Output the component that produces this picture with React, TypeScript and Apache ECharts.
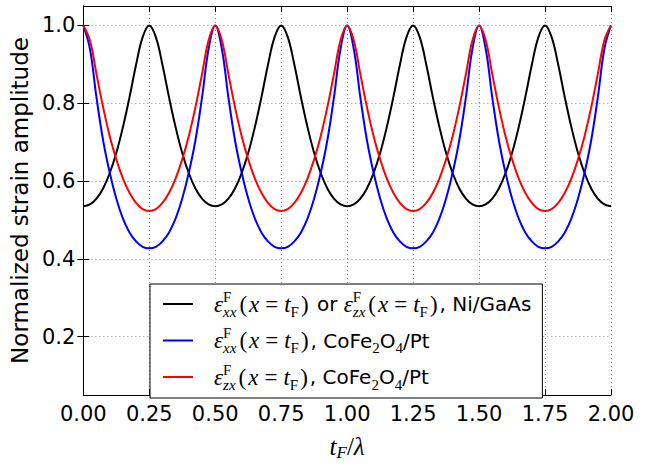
import React, { useEffect, useRef } from "react";
import * as echarts from "echarts";

// sampling positions t_F / lambda
const tValues = [
  0.000, 0.025, 0.050, 0.075, 0.100, 0.125, 0.150, 0.175, 0.200, 0.225,
  0.250, 0.275, 0.300, 0.325, 0.350, 0.375, 0.400, 0.425, 0.450, 0.475,
  0.500, 0.525, 0.550, 0.575, 0.600, 0.625, 0.650, 0.675, 0.700, 0.725,
  0.750, 0.775, 0.800, 0.825, 0.850, 0.875, 0.900, 0.925, 0.950, 0.975,
  1.000, 1.025, 1.050, 1.075, 1.100, 1.125, 1.150, 1.175, 1.200, 1.225,
  1.250, 1.275, 1.300, 1.325, 1.350, 1.375, 1.400, 1.425, 1.450, 1.475,
  1.500, 1.525, 1.550, 1.575, 1.600, 1.625, 1.650, 1.675, 1.700, 1.725,
  1.750, 1.775, 1.800, 1.825, 1.850, 1.875, 1.900, 1.925, 1.950, 1.975,
  2.000,
];

// Ni/GaAs (black)
const niGaAsValues = [
  0.535, 0.540, 0.555, 0.581, 0.620, 0.672, 0.738, 0.815, 0.899, 0.970,
  1.000, 0.970, 0.899, 0.815, 0.738, 0.672, 0.620, 0.581, 0.555, 0.540,
  0.535, 0.540, 0.555, 0.581, 0.620, 0.672, 0.738, 0.815, 0.899, 0.970,
  1.000, 0.970, 0.899, 0.815, 0.738, 0.672, 0.620, 0.581, 0.555, 0.540,
  0.535, 0.540, 0.555, 0.581, 0.620, 0.672, 0.738, 0.815, 0.899, 0.970,
  1.000, 0.970, 0.899, 0.815, 0.738, 0.672, 0.620, 0.581, 0.555, 0.540,
  0.535, 0.540, 0.555, 0.581, 0.620, 0.672, 0.738, 0.815, 0.899, 0.970,
  1.000, 0.970, 0.899, 0.815, 0.738, 0.672, 0.620, 0.581, 0.555, 0.540,
  0.535,
];

// CoFe2O4/Pt, xx component (blue)
const cfoXxValues = [
  1.000, 0.940, 0.815, 0.705, 0.622, 0.555, 0.504, 0.468, 0.445, 0.431,
  0.427, 0.431, 0.445, 0.468, 0.504, 0.555, 0.622, 0.705, 0.815, 0.940,
  1.000, 0.940, 0.815, 0.705, 0.622, 0.555, 0.504, 0.468, 0.445, 0.431,
  0.427, 0.431, 0.445, 0.468, 0.504, 0.555, 0.622, 0.705, 0.815, 0.940,
  1.000, 0.940, 0.815, 0.705, 0.622, 0.555, 0.504, 0.468, 0.445, 0.431,
  0.427, 0.431, 0.445, 0.468, 0.504, 0.555, 0.622, 0.705, 0.815, 0.940,
  1.000, 0.940, 0.815, 0.705, 0.622, 0.555, 0.504, 0.468, 0.445, 0.431,
  0.427, 0.431, 0.445, 0.468, 0.504, 0.555, 0.622, 0.705, 0.815, 0.940,
  1.000,
];

// CoFe2O4/Pt, zx component (red)
const cfoZxValues = [
  1.000, 0.962, 0.875, 0.790, 0.716, 0.656, 0.607, 0.570, 0.544, 0.528,
  0.523, 0.528, 0.544, 0.570, 0.607, 0.656, 0.716, 0.790, 0.875, 0.962,
  1.000, 0.962, 0.875, 0.790, 0.716, 0.656, 0.607, 0.570, 0.544, 0.528,
  0.523, 0.528, 0.544, 0.570, 0.607, 0.656, 0.716, 0.790, 0.875, 0.962,
  1.000, 0.962, 0.875, 0.790, 0.716, 0.656, 0.607, 0.570, 0.544, 0.528,
  0.523, 0.528, 0.544, 0.570, 0.607, 0.656, 0.716, 0.790, 0.875, 0.962,
  1.000, 0.962, 0.875, 0.790, 0.716, 0.656, 0.607, 0.570, 0.544, 0.528,
  0.523, 0.528, 0.544, 0.570, 0.607, 0.656, 0.716, 0.790, 0.875, 0.962,
  1.000,
];

const yTickValues = [0.2, 0.4, 0.6, 0.8, 1.0];
const seriesNames = [
  "εxxF(x=tF) or εzxF(x=tF), Ni/GaAs",
  "εxxF(x=tF), CoFe2O4/Pt",
  "εzxF(x=tF), CoFe2O4/Pt",
];
const seriesColors = ["#000000", "#0000ff", "#ff0000"];

const eps = (c: string) =>
  `{e|ε}{sup|F}{sub|${c}}{r|(}{e|x}{eq|=}{e|t}{subi|F}{r|)}`;
const legendRich = [
  `{sp| }${eps("xx")}{s| or }${eps("zx")}{s|, Ni/GaAs}`,
  `{sp| }${eps("xx")}{s|, CoFe}{ssub|2}{s|O}{ssub|4}{s|/Pt}`,
  `{sp| }${eps("zx")}{s|, CoFe}{ssub|2}{s|O}{ssub|4}{s|/Pt}`,
];

export default function App() {
  const ref = useRef<HTMLDivElement>(null);
  useEffect(() => {
    const chart = echarts.init(ref.current!, null, { renderer: "svg" });
    const sans = "DejaVu Sans";
    const serif = "Liberation Serif";
    const mk = (vals: number[]) => tValues.map((t, i) => [t, vals[i]]);
    const valuesList = [niGaAsValues, cfoXxValues, cfoZxValues];
    const rich: any = {
      sp: { width: 16, fontSize: 10, lineHeight: 30 },
      e: { fontFamily: serif, fontStyle: "italic", fontSize: 23, color: "#000", lineHeight: 30 },
      r: { fontFamily: serif, fontSize: 23, color: "#000", lineHeight: 30, padding: [0, 2] },
      eq: { fontFamily: serif, fontSize: 23, color: "#000", lineHeight: 30, padding: [0, 6] },
      sup: { fontFamily: serif, fontSize: 15, color: "#000", verticalAlign: "top", lineHeight: 16, width: 0 },
      sub: { fontFamily: serif, fontStyle: "italic", fontSize: 15, color: "#000", verticalAlign: "bottom", lineHeight: 19, padding: [0, 1, 0, 0] },
      subi: { fontFamily: serif, fontSize: 15, color: "#000", verticalAlign: "bottom", lineHeight: 19 },
      s: { fontFamily: sans, fontSize: 20, color: "#000", lineHeight: 30 },
      ssub: { fontFamily: serif, fontSize: 15, color: "#000", verticalAlign: "bottom", lineHeight: 19 },
    };
    const axisLine = { show: true, lineStyle: { color: "#000", width: 1 } };
    const tick = { show: true, inside: true, length: 6, lineStyle: { color: "#000", width: 1 } };
    const split = { show: true, lineStyle: { color: "#8c8c8c", width: 1, type: [1, 3] } };
    chart.setOption({
      animation: false,
      backgroundColor: "#fff",
      grid: { left: 81, right: 36, top: 6, bottom: 57, containLabel: false },
      xAxis: [
        {
          type: "value",
          min: 0,
          max: 2,
          interval: 0.25,
          position: "bottom",
          axisLine,
          axisTick: tick,
          splitLine: split,
          axisLabel: {
            formatter: (v: number) => v.toFixed(2),
            fontFamily: sans,
            fontSize: 21,
            color: "#000",
            margin: 8,
          },
          name: "{i|t}{f|F}{r|/}{i|λ}",
          nameLocation: "middle",
          nameGap: 36,
          nameTextStyle: {
            rich: {
              i: { fontFamily: serif, fontStyle: "italic", fontSize: 25, color: "#000", lineHeight: 30 },
              r: { fontFamily: serif, fontSize: 25, color: "#000", lineHeight: 30 },
              f: { fontFamily: serif, fontStyle: "italic", fontSize: 17, color: "#000", verticalAlign: "bottom", lineHeight: 20 },
            },
          },
        },
        {
          type: "value",
          min: 0,
          max: 2,
          interval: 0.25,
          position: "top",
          axisLine,
          axisTick: tick,
          axisLabel: { show: false },
          splitLine: { show: false },
        },
      ],
      yAxis: [
        {
          type: "value",
          min: 0.05,
          max: 1.05,
          position: "left",
          axisLine,
          axisTick: { ...tick, customValues: yTickValues },
          splitLine: split,
          axisLabel: {
            customValues: yTickValues,
            formatter: (v: number) => v.toFixed(1),
            fontFamily: sans,
            fontSize: 21,
            color: "#000",
            margin: 8,
          },
          name: "Normalized strain amplitude",
          nameLocation: "middle",
          nameRotate: 90,
          nameGap: 44,
          nameTextStyle: { fontFamily: sans, fontSize: 23, color: "#000" },
        },
        {
          type: "value",
          min: 0.05,
          max: 1.05,
          position: "right",
          axisLine,
          axisTick: { ...tick, customValues: yTickValues },
          axisLabel: { show: false, customValues: yTickValues },
          splitLine: { show: false },
        },
      ],
      legend: {
        show: true,
        orient: "vertical",
        left: 150,
        top: 284,
        padding: [5, 11, 6, 13],
        itemGap: 6.5,
        itemWidth: 30,
        itemHeight: 2,
        icon: "rect",
        backgroundColor: "#fff",
        borderColor: "#000",
        borderWidth: 1,
        borderRadius: 0,
        selectedMode: false,
        data: seriesNames,
        formatter: (name: string) => legendRich[seriesNames.indexOf(name)],
        textStyle: { rich },
      },
      series: seriesNames.map((name, i) => ({
        name,
        type: "line",
        data: mk(valuesList[i]),
        xAxisIndex: 0,
        yAxisIndex: 0,
        showSymbol: false,
        smooth: 0.4,
        lineStyle: { color: seriesColors[i], width: 2 },
        itemStyle: { color: seriesColors[i] },
      })),
    });
    return () => chart.dispose();
  }, []);
  return (
    <div
      ref={ref}
      style={{ position: "fixed", left: 0, top: 0, width: 647, height: 466, background: "#fff" }}
    />
  );
}
